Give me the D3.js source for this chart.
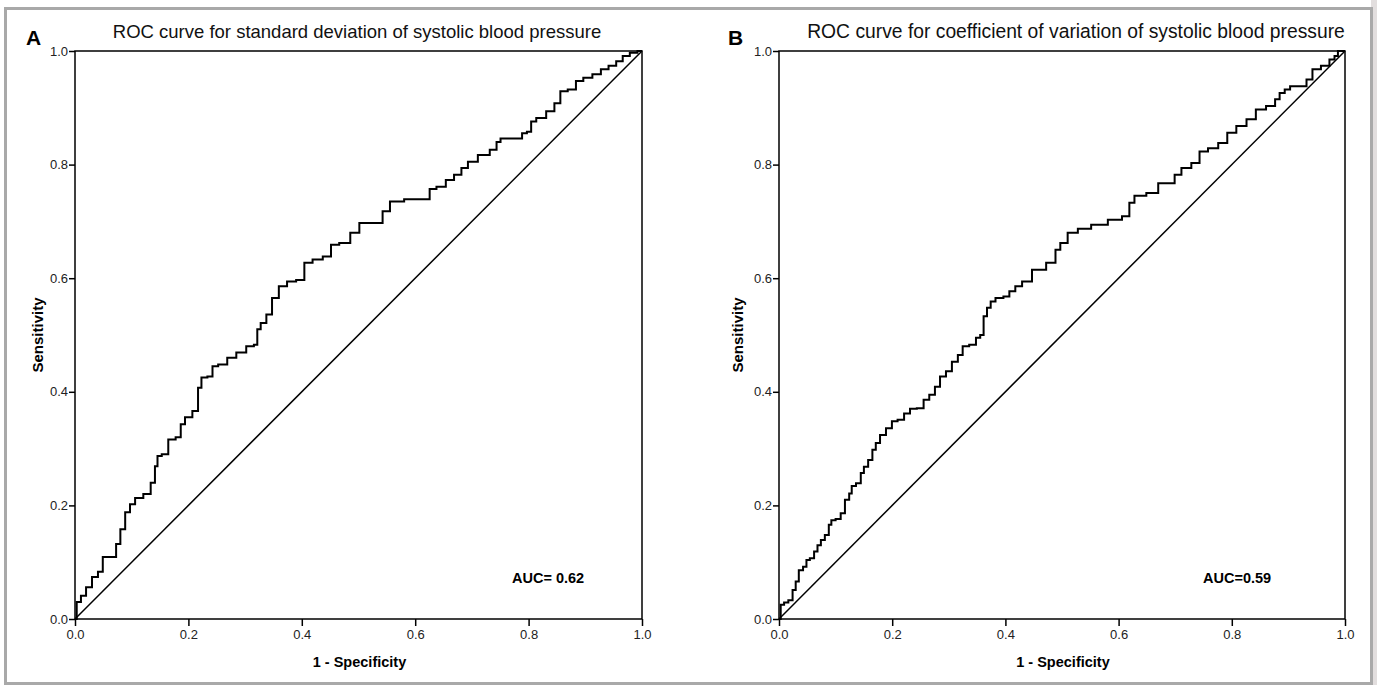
<!DOCTYPE html>
<html>
<head>
<meta charset="utf-8">
<script src="https://cdn.jsdelivr.net/npm/d3@7"></script>
<style>
  body { margin: 0; background: #fff; }
  text { font-family: "Liberation Sans", Arial, sans-serif; }
</style>
</head>
<body>
<div id="chart"></div>
<script>
const Width = 1377;
const Height = 685;

// tick labels shared by both panels
const tickValues = [0, 0.2, 0.4, 0.6, 0.8, 1.0];

// panel A: standard deviation of SBP (1 - specificity / sensitivity)
const fprA = [0, 0.006, 0.015, 0.024, 0.036, 0.045, 0.053, 0.068, 0.077, 0.083, 0.094, 0.1, 0.112, 0.129, 0.138, 0.144, 0.147, 0.159, 0.17, 0.185,
  0.188, 0.2, 0.214, 0.22, 0.226, 0.241, 0.244, 0.261, 0.276, 0.293, 0.311, 0.32, 0.323, 0.332, 0.343, 0.352, 0.367, 0.381, 0.399, 0.41,
  0.428, 0.446, 0.457, 0.475, 0.496, 0.507, 0.54, 0.545, 0.566, 0.595, 0.624, 0.627, 0.648, 0.66, 0.677, 0.686, 0.7, 0.721, 0.742, 0.745,
  0.756, 0.786, 0.791, 0.803, 0.806, 0.821, 0.841, 0.85, 0.862, 0.876, 0.891, 0.902, 0.923, 0.932, 0.95, 0.959, 0.973, 0.984, 1.0];
const tprA = [0, 0.03, 0.041, 0.056, 0.074, 0.083, 0.109, 0.109, 0.132, 0.158, 0.188, 0.202, 0.213, 0.22, 0.24, 0.269, 0.287, 0.29, 0.316, 0.32,
  0.343, 0.355, 0.366, 0.407, 0.425, 0.427, 0.445, 0.448, 0.46, 0.469, 0.48, 0.483, 0.51, 0.521, 0.536, 0.565, 0.586, 0.594, 0.597, 0.627,
  0.633, 0.638, 0.659, 0.662, 0.68, 0.697, 0.697, 0.718, 0.735, 0.739, 0.739, 0.757, 0.761, 0.773, 0.782, 0.794, 0.805, 0.817, 0.826, 0.84,
  0.846, 0.846, 0.855, 0.858, 0.876, 0.882, 0.894, 0.908, 0.929, 0.932, 0.947, 0.953, 0.959, 0.968, 0.974, 0.982, 0.991, 0.997, 1.0];

// panel B: coefficient of variation of SBP
const fprB = [0, 0.006, 0.012, 0.021, 0.027, 0.032, 0.038, 0.047, 0.05, 0.059, 0.065, 0.071, 0.077, 0.085, 0.091, 0.094, 0.106, 0.112, 0.121, 0.127,
  0.13, 0.142, 0.147, 0.153, 0.162, 0.168, 0.174, 0.183, 0.195, 0.204, 0.215, 0.227, 0.236, 0.251, 0.26, 0.271, 0.28, 0.289, 0.301, 0.31,
  0.322, 0.327, 0.345, 0.351, 0.36, 0.363, 0.372, 0.376, 0.389, 0.404, 0.41, 0.425, 0.434, 0.46, 0.484, 0.493, 0.501, 0.519, 0.537, 0.566,
  0.596, 0.616, 0.622, 0.634, 0.664, 0.676, 0.696, 0.702, 0.72, 0.737, 0.749, 0.767, 0.785, 0.799, 0.817, 0.835, 0.85, 0.871, 0.882, 0.887,
  0.9, 0.906, 0.926, 0.938, 0.947, 0.968, 0.977, 0.986, 0.989, 1.0];
const tprB = [0, 0.025, 0.029, 0.033, 0.051, 0.066, 0.086, 0.092, 0.104, 0.107, 0.119, 0.13, 0.139, 0.148, 0.166, 0.174, 0.176, 0.186, 0.21, 0.221,
  0.234, 0.239, 0.257, 0.268, 0.28, 0.298, 0.31, 0.324, 0.336, 0.348, 0.351, 0.362, 0.37, 0.371, 0.386, 0.395, 0.409, 0.427, 0.436, 0.453,
  0.465, 0.48, 0.483, 0.495, 0.5, 0.533, 0.548, 0.559, 0.565, 0.568, 0.577, 0.586, 0.594, 0.615, 0.627, 0.65, 0.662, 0.68, 0.687, 0.694,
  0.703, 0.709, 0.733, 0.745, 0.75, 0.767, 0.767, 0.782, 0.794, 0.803, 0.823, 0.829, 0.838, 0.856, 0.868, 0.88, 0.897, 0.903, 0.915, 0.926,
  0.932, 0.938, 0.938, 0.95, 0.968, 0.974, 0.985, 0.991, 1.0, 1.0];

const panels = [
  { letter: 'A', title: 'ROC curve for standard deviation of systolic blood pressure', auc: 'AUC= 0.62',
    fpr: fprA, tpr: tprA, left: 75, right: 642, titleX: 357, titleSize: 18.5, letterX: 26, yLabelX: 38, aucX: 512 },
  { letter: 'B', title: 'ROC curve for coefficient of variation of systolic blood pressure', auc: 'AUC=0.59',
    fpr: fprB, tpr: tprB, left: 779, right: 1345, titleX: 1076, titleSize: 19.3, letterX: 728, yLabelX: 738, aucX: 1203 }
];
const Top = 51;
const Bottom = 619;

const svg = d3.select('#chart').
append('svg').
attr('width', Width).
attr('height', Height);

//outer frame
svg.append('rect').
attr('x', 1377 - 6).
attr('y', 0).
attr('width', 6).
attr('height', Height).
attr('fill', '#e2dede');
svg.append('rect').
attr('x', 5.5).
attr('y', 8.5).
attr('width', 1366).
attr('height', 675).
attr('fill', 'none').
attr('stroke', '#a9a9a9').
attr('stroke-width', 3);

panels.forEach(p => {
  const x = d3.scaleLinear().domain([0, 1]).range([p.left, p.right]);
  const y = d3.scaleLinear().domain([0, 1]).range([Bottom, Top]);
  const g = svg.append('g');

  //axes
  const xAxis = g.append('g').
  attr('transform', 'translate(0,' + Bottom + ')').
  call(d3.axisBottom(x).tickValues(tickValues).tickFormat(d3.format('.1f')).tickSize(7).tickPadding(4));
  const yAxis = g.append('g').
  attr('transform', 'translate(' + p.left + ',0)').
  call(d3.axisLeft(y).tickValues(tickValues).tickFormat(d3.format('.1f')).tickSize(6).tickPadding(1));
  [xAxis, yAxis].forEach(a => {
    a.select('.domain').remove();
    a.selectAll('line').attr('stroke', '#000').attr('stroke-width', 1.5);
    a.selectAll('text').attr('fill', '#222').style('font-size', '13px').style('font-family', '"Liberation Sans", Arial, sans-serif');
  });

  //plot box
  g.append('rect').
  attr('x', x(0)).
  attr('y', y(1)).
  attr('width', x(1) - x(0)).
  attr('height', y(0) - y(1)).
  attr('fill', 'none').
  attr('stroke', '#000').
  attr('stroke-width', 1.5);

  //reference diagonal
  g.append('line').
  attr('x1', x(0)).attr('y1', y(0)).
  attr('x2', x(1)).attr('y2', y(1)).
  attr('stroke', '#000').
  attr('stroke-width', 1.5);

  //ROC curve
  const pts = p.fpr.map((v, i) => [v, p.tpr[i]]);
  g.append('path').
  datum(pts).
  attr('fill', 'none').
  attr('stroke', '#000').
  attr('stroke-width', 2).
  attr('d', d3.line().x(d => x(d[0])).y(d => y(d[1])).curve(d3.curveStep));

  //texts
  g.append('text').
  attr('x', p.titleX).
  attr('y', 38).
  attr('text-anchor', 'middle').
  style('font-size', p.titleSize + 'px').
  attr('fill', '#111').
  text(p.title);
  g.append('text').
  attr('x', p.letterX).
  attr('y', 45).
  style('font-size', '21px').
  style('font-weight', 'bold').
  text(p.letter);
  g.append('text').
  attr('x', (x(0) + x(1)) / 2 + 1).
  attr('y', 667).
  attr('text-anchor', 'middle').
  style('font-size', '14.5px').
  style('font-weight', 'bold').
  text('1 - Specificity');
  g.append('text').
  attr('transform', 'translate(' + (p.yLabelX + 5) + ',' + (Top + Bottom) / 2 + ') rotate(-90)').
  attr('text-anchor', 'middle').
  style('font-size', '15px').
  style('font-weight', 'bold').
  text('Sensitivity');
  g.append('text').
  attr('x', p.aucX).
  attr('y', 583).
  style('font-size', '14.5px').
  style('font-weight', 'bold').
  text(p.auc);
});
</script>
</body>
</html>
